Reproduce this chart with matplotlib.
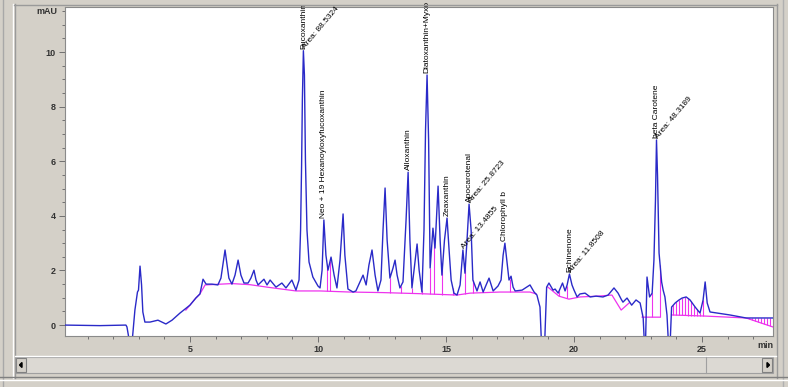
import numpy as np
import matplotlib
matplotlib.use("Agg")
import matplotlib.pyplot as plt
from matplotlib.patches import Rectangle, Polygon
from matplotlib.lines import Line2D

plt.rcParams['font.family'] = ['Liberation Sans', 'DejaVu Sans']

# --- chromatogram trace (min, mAU) ---
trace_t = [0.12, 1.48, 2.50, 2.54, 2.66, 2.73, 2.85, 2.95, 2.99, 3.05, 3.11, 3.16, 3.24, 3.44,
           3.75, 3.91, 4.06, 4.30, 4.61, 5.00, 5.23, 5.39, 5.51, 5.63, 5.86, 6.09, 6.21, 6.37,
           6.52, 6.64, 6.76, 6.88, 6.99, 7.11, 7.27, 7.38, 7.50, 7.58, 7.66, 7.89, 8.01, 8.13,
           8.36, 8.59, 8.75, 8.98, 9.14, 9.26, 9.32, 9.36, 9.39, 9.43, 9.47, 9.51, 9.57, 9.65,
           9.80, 10.00, 10.08, 10.16, 10.23, 10.31, 10.39, 10.51, 10.63, 10.74, 10.86, 10.98,
           11.05, 11.17, 11.37, 11.48, 11.64, 11.76, 11.88, 11.99, 12.11, 12.23, 12.34, 12.46,
           12.54, 12.62, 12.70, 12.81, 12.93, 13.01, 13.09, 13.20, 13.32, 13.44, 13.52, 13.59,
           13.67, 13.75, 13.87, 13.95, 14.06, 14.14, 14.20, 14.26, 14.32, 14.38, 14.49, 14.57,
           14.69, 14.77, 14.84, 14.94, 15.04, 15.12, 15.20, 15.31, 15.43, 15.55, 15.66, 15.74,
           15.82, 15.90, 15.98, 16.05, 16.21, 16.33, 16.45, 16.68, 16.84, 17.03, 17.15, 17.23,
           17.30, 17.38, 17.46, 17.54, 17.62, 17.70, 17.97, 18.28, 18.44, 18.55, 18.67, 18.73,
           18.85, 18.93, 19.02, 19.18, 19.26, 19.38, 19.55, 19.65, 19.73, 19.82, 19.92, 20.00,
           20.12, 20.23, 20.43, 20.63, 20.86, 21.13, 21.33, 21.56, 21.72, 21.84, 21.91, 22.07,
           22.25, 22.42, 22.58, 22.70, 22.75, 22.79, 22.85, 22.95, 23.05, 23.12, 23.18, 23.22,
           23.26, 23.32, 23.42, 23.48, 23.55, 23.63, 23.69, 23.75, 23.81, 23.95, 24.10, 24.22,
           24.38, 24.53, 24.73, 24.92, 25.04, 25.12, 25.20, 25.31, 25.59, 26.09, 26.72, 27.27,
           27.77]
trace_v = [0.00, -0.02, 0.00, -0.07, -0.73, -0.73, 0.55, 1.21, 1.28, 2.16, 1.47, 0.48, 0.11, 0.11,
           0.18, 0.11, 0.04, 0.18, 0.44, 0.73, 0.99, 1.14, 1.68, 1.50, 1.50, 1.47, 1.72, 2.75,
           1.72, 1.50, 1.83, 2.38, 1.83, 1.54, 1.54, 1.72, 2.01, 1.65, 1.47, 1.68, 1.47, 1.65,
           1.39, 1.54, 1.36, 1.65, 1.28, 1.65, 3.48, 5.86, 8.24, 10.05, 9.16, 6.04, 3.48, 2.31,
           1.76, 1.43, 1.36, 2.01, 3.85, 2.56, 2.01, 2.49, 1.83, 1.36, 2.38, 4.07,
           2.56, 1.32, 1.21, 1.25, 1.58, 1.83, 1.47, 2.20, 2.75, 1.83, 1.25, 1.65,
           3.48, 5.02, 3.11, 1.72, 2.09, 2.38, 1.83, 1.36, 1.58, 3.85, 5.60, 3.11,
           1.36, 2.01, 2.97, 2.01, 1.21, 3.48, 7.14, 9.16, 6.78, 2.09, 3.55, 2.82,
           5.09, 3.11, 1.83, 3.11, 3.92, 2.75, 1.65, 1.17, 1.10, 1.47, 2.75, 1.90,
           3.11, 4.43, 3.48, 1.65, 1.25, 1.58, 1.21, 1.72, 1.25, 1.43, 1.65, 2.56,
           3.00, 2.31, 1.65, 1.79, 1.39, 1.25, 1.28, 1.47, 1.21, 1.10, 0.66, -0.73,
           -0.73, 1.39, 1.54, 1.28, 1.32, 1.17, 1.54, 1.25, 1.47, 1.87, 1.47, 1.28,
           1.03, 1.14, 1.17, 1.03, 1.06, 1.03, 1.10, 1.36, 1.17, 0.95, 0.84, 0.99,
           0.73, 0.92, 0.81, 0.26, -0.73, -0.73, 1.76, 1.03, 1.17, 2.38, 4.58, 6.78,
           5.49, 2.64, 1.58, 1.28, 1.03, 0.37, -0.73, -0.73, 0.66, 0.81, 0.92, 0.99,
           1.03, 0.92, 0.66, 0.44, 0.92, 1.58, 0.81, 0.48, 0.44, 0.37, 0.26, 0.26,
           0.26]

# integration baseline (NaN = pen up)
base_t = [4.84, 5.23, 5.39, 5.59, 6.64, 7.34, 8.01, 9.14, 10.08, 11.25, 12.54, 13.98, 15.43,
          15.94, 17.11, 18.28, 18.52, np.nan,
          18.98, 19.41, 19.80, 20.23, 20.94, 21.48, 21.84, 22.15, np.nan,
          22.66, 23.36, np.nan,
          23.83, 25.12, 26.72, 27.77]
base_v = [0.55, 0.99, 1.14, 1.47, 1.52, 1.48, 1.39, 1.25, 1.25, 1.21, 1.19, 1.15, 1.10,
          1.17, 1.21, 1.21, 1.14, np.nan,
          1.39, 1.06, 0.95, 1.03, 1.06, 1.10, 0.55, 0.81, np.nan,
          0.29, 0.29, np.nan,
          0.37, 0.33, 0.26, -0.07]

# peak start/stop drop lines
drop_t = [10.37, 10.47, 12.81, 13.23, 13.67, 14.05, 14.38, 14.55, 14.86, 15.27, 15.76, 16.05,
          17.48, 19.41, 19.71, 22.66, 23.05, 23.36,
          23.87, 23.98, 24.10, 24.22, 24.34, 24.45, 24.57, 24.69, 24.80, 24.92, 25.04,
          26.84, 26.95, 27.07, 27.19, 27.30, 27.42, 27.54, 27.66]

peak_names = ["Fucoxanthin", "Neo + 19 Hexanoyloxyfucoxanthin", "Alloxanthin",
              "Diatoxanthin+Myxo", "Zeaxanthin", "Apocarotenal", "Chlorophyll b",
              "Echinenone", "beta Carotene"]
peak_t = [9.43, 10.23, 13.52, 14.26, 15.04, 15.90, 17.30, 19.82, 23.22]
peak_h = [10.05, 3.85, 5.60, 9.16, 3.92, 4.43, 3.00, 1.87, 6.78]

area_labels = ["Area: 88.5324", "Area: 25.8723", "Area: 13.4855", "Area: 11.8508", "Area: 48.3189"]
area_t = [9.43, 15.90, 15.66, 19.82, 23.22]
area_h = [10.05, 4.43, 2.75, 1.87, 6.78]

W, H = 788, 387
GREY = '#d4d0c8'
fig = plt.figure(figsize=(W / 100, H / 100), dpi=100)
fig.patch.set_facecolor(GREY)


def fx(x):
    return x / W


def fy(y):
    return 1 - y / H


def rect(x0, y0, x1, y1, **kw):
    fig.add_artist(Rectangle((fx(x0), fy(y1)), (x1 - x0) / W, (y1 - y0) / H,
                             transform=fig.transFigure, **kw))


def hline(y, x0, x1, color, lw=1.0):
    fig.add_artist(Line2D([fx(x0), fx(x1)], [fy(y), fy(y)], color=color, lw=lw,
                          transform=fig.transFigure))


def vline(x, y0, y1, color, lw=1.0):
    fig.add_artist(Line2D([fx(x), fx(x)], [fy(y0), fy(y1)], color=color, lw=lw,
                          transform=fig.transFigure))


# window chrome
vline(3, 0, 387, '#a8a8a8')
vline(13, 4, 378, '#ffffff')
vline(14.5, 4, 378, '#9a9a9a')
hline(4.5, 14, 777, '#9a9a9a')
vline(777, 4, 378, '#9a9a9a')
vline(783, 0, 387, '#b0b0b0')
hline(355.5, 15, 776, '#ffffff')
rect(15, 357, 773, 373, facecolor='#dcd9d3', edgecolor='#a0a0a0', lw=0.8)
vline(706, 357, 373, '#a0a0a0', 0.8)
rect(16, 358, 26, 372, facecolor=GREY, edgecolor='#808080', lw=0.8)
rect(762, 358, 772, 372, facecolor=GREY, edgecolor='#808080', lw=0.8)
fig.add_artist(Polygon([[fx(19.5), fy(365)], [fx(22), fy(362.5)], [fx(22), fy(367.5)]],
                       closed=True, color='black', transform=fig.transFigure))
fig.add_artist(Polygon([[fx(769.5), fy(365)], [fx(767), fy(362.5)], [fx(767), fy(367.5)]],
                       closed=True, color='black', transform=fig.transFigure))
hline(376.5, 0, 788, '#808080')
hline(379.5, 0, 788, '#ffffff')

# plot area
ax = fig.add_axes([fx(65), fy(336), fx(773) - fx(65), fy(7) - fy(336)])
ax.set_facecolor('white')
for s in ax.spines.values():
    s.set_color('#8a8a8a')
    s.set_linewidth(0.8)

ax.set_xlim(0.12, 27.77)
ax.set_ylim(-0.40, 11.65)
ax.set_xticks([5, 10, 15, 20, 25])
ax.set_xticks(np.arange(1, 28), minor=True)
ax.set_yticks([0, 2, 4, 6, 8, 10])
ax.set_yticks(np.arange(0, 11.6, 0.5), minor=True)
ax.tick_params(which='both', color='#707070', width=0.7, labelsize=6.5,
               labelcolor='#333333', direction='out')
ax.tick_params(which='major', length=4.5, pad=2)
ax.tick_params(which='minor', length=2.5)
for lab in ax.get_xticklabels() + ax.get_yticklabels():
    lab.set_fontweight('bold')

ax.annotate('mAU', xy=(0, 1), xycoords='axes fraction', xytext=(-8, -5),
            textcoords='offset pixels', ha='right', va='center', fontsize=6.5,
            fontweight='bold', color='#333333')
ax.annotate('min', xy=(27.49, 0), xycoords=('data', 'axes fraction'), xytext=(0, -10),
            textcoords='offset pixels', ha='center', va='center', fontsize=6.5,
            fontweight='bold', color='#333333', annotation_clip=False)

# baseline, drop lines, trace
pink = '#ee33ee'
ax.plot(base_t, base_v, color=pink, lw=0.9, zorder=2)
bt = np.array(base_t)
bv = np.array(base_v)
ok = np.isfinite(bt)
drop_low = np.interp(drop_t, bt[ok], bv[ok])
drop_top = np.interp(drop_t, trace_t, trace_v)
ax.vlines(drop_t, drop_low, drop_top, color=pink, lw=0.8, zorder=2)
ax.plot(trace_t, trace_v, color='#2a2ac8', lw=1.0, zorder=3)

for name, t, h in zip(peak_names, peak_t, peak_h):
    ax.annotate(name, xy=(t, h), xytext=(0, 2), textcoords='offset pixels',
                rotation=90, ha='center', va='bottom', fontsize=6.0, color='black',
                annotation_clip=False)
for lab, t, h in zip(area_labels, area_t, area_h):
    ax.annotate(lab, xy=(t, h), xytext=(3, 0), textcoords='offset pixels',
                rotation=50, rotation_mode='anchor', ha='left', va='bottom',
                fontsize=6.0, color='black', annotation_clip=False)

fig.savefig('out.png', dpi=100, facecolor=GREY)
